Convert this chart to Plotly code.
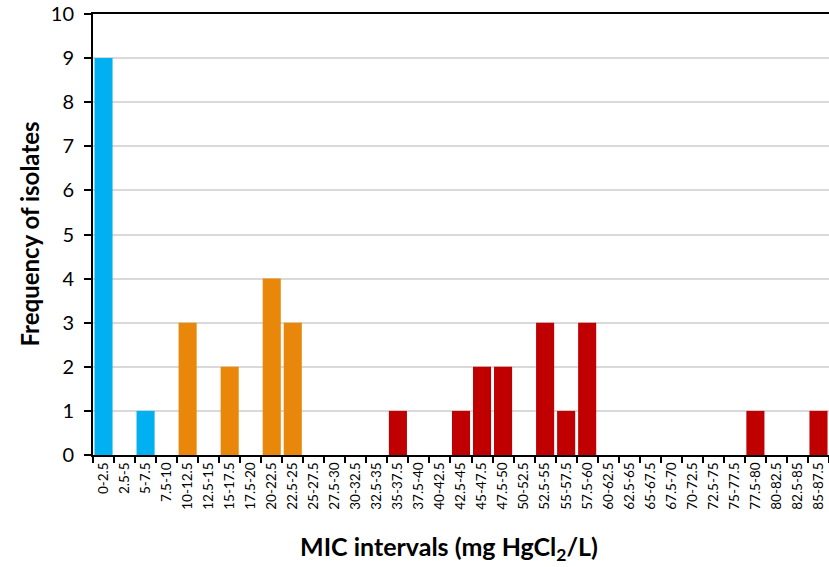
import plotly.graph_objects as go

categories = ["0-2.5","2.5-5","5-7.5","7.5-10","10-12.5","12.5-15","15-17.5","17.5-20",
              "20-22.5","22.5-25","25-27.5","27.5-30","30-32.5","32.5-35","35-37.5","37.5-40",
              "40-42.5","42.5-45","45-47.5","47.5-50","50-52.5","52.5-55","55-57.5","57.5-60",
              "60-62.5","62.5-65","65-67.5","67.5-70","70-72.5","72.5-75","75-77.5","77.5-80",
              "80-82.5","82.5-85","85-87.5"]
frequency = [9,0,1,0,3,0,2,0,4,3,0,0,0,0,1,0,0,1,2,2,0,3,1,3,0,0,0,0,0,0,0,1,0,0,1]
group = ["blue"]*4 + ["orange"]*10 + ["red"]*21
palette = {"blue": "#00B0F0", "orange": "#E8870A", "red": "#C00000"}
colors = [palette[g] for g in group]

font = "Lato, 'Open Sans', sans-serif"

fig = go.Figure(go.Bar(x=categories, y=frequency, marker=dict(color=colors, line=dict(width=0))))

fig.update_layout(
    width=829, height=567,
    margin=dict(l=93, r=0, t=14, b=112),
    plot_bgcolor="white", paper_bgcolor="white",
    bargap=0.14, showlegend=False,
    font=dict(family=font, color="black"),
    xaxis=dict(type="category", tickangle=-90, tickfont=dict(size=13.5, family=font),
               showline=True, linecolor="black", linewidth=2, mirror=True,
               ticks="outside", tickson="boundaries", ticklen=6, tickcolor="black", tickwidth=2,
               showgrid=False, range=[-0.5, 34.5]),
    yaxis=dict(range=[0, 10], dtick=1, tickfont=dict(size=20, family=font),
               showline=True, linecolor="black", linewidth=2,
               ticks="outside", ticklen=7, tickcolor="black", tickwidth=2,
               ticklabelstandoff=6,
               showgrid=True, gridcolor="#D9D9D9", gridwidth=2, zeroline=False),
    annotations=[
        dict(text="<b>Frequency of isolates</b>", textangle=-90, xref="paper", yref="paper",
             x=(29-93)/736, y=0.5, showarrow=False, font=dict(size=24, family=font),
             xanchor="center", yanchor="middle"),
        dict(text="<b>MIC intervals (mg HgCl<sub>2</sub>/L)</b>", xref="paper", yref="paper",
             x=(449-93)/736, y=(455-548)/441, showarrow=False, font=dict(size=25, family=font),
             xanchor="center", yanchor="middle"),
    ],
)

fig.write_html("out.html")
